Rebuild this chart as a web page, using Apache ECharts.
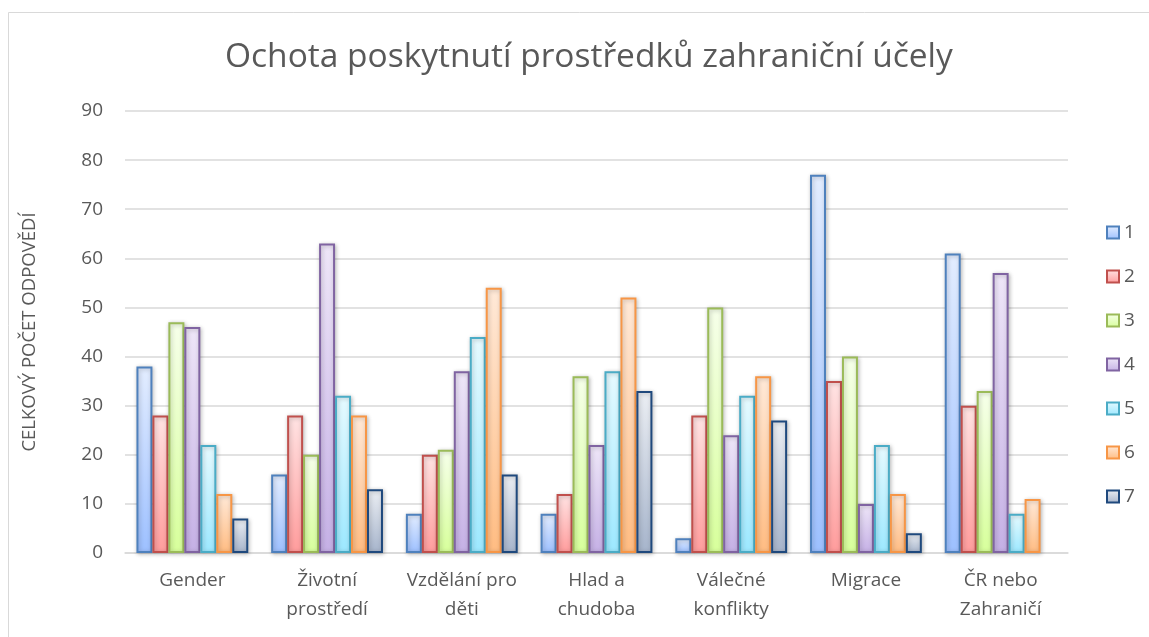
<!DOCTYPE html>
<html>
<head>
<meta charset="utf-8">
<script src="https://cdn.jsdelivr.net/npm/echarts@6/dist/echarts.min.js"></script>
<style>
  html, body { margin: 0; padding: 0; background: #fff; }
  #main { width: 1149px; height: 637px; }
</style>
</head>
<body>
<div id="main"></div>
<script>
// kategorie a hodnoty
var categories = ['Gender', 'Životní\nprostředí', 'Vzdělání pro\nděti', 'Hlad a\nchudoba', 'Válečné\nkonflikty', 'Migrace', 'ČR nebo\nZahraničí'];
var seriesNames = ['1', '2', '3', '4', '5', '6', '7'];
var s1 = [38, 16, 8, 8, 3, 77, 61];
var s2 = [28, 28, 20, 12, 28, 35, 30];
var s3 = [47, 20, 21, 36, 50, 40, 33];
var s4 = [46, 63, 37, 22, 24, 10, 57];
var s5 = [22, 32, 44, 37, 32, 22, 8];
var s6 = [12, 28, 54, 52, 36, 12, 11];
var s7 = [7, 13, 16, 33, 27, 4, null]; // poslední sloupec v grafu chybí
var allData = [s1, s2, s3, s4, s5, s6, s7];

// barvy: okraj, horní a dolní barva přechodu
var colors = [
  ['#4F81BD', '#E3EDFF', '#9DC0FF'],
  ['#C0504D', '#FFE3E3', '#FF9C9C'],
  ['#9BBB59', '#F6FFEA', '#D7FF9B'],
  ['#8064A2', '#EEE6F8', '#C5B0E5'],
  ['#4BACC6', '#E6FAFF', '#9CE8FF'],
  ['#F79646', '#FFE9D8', '#FFBC82'],
  ['#1F497D', '#EBEEF3', '#A6B4CB']
];

var font = 'Open Sans';

var series = allData.map(function (d, i) {
  return {
    name: seriesNames[i],
    type: 'bar',
    data: d,
    barGap: '0%',
    barCategoryGap: '17%',
    itemStyle: {
      borderColor: colors[i][0],
      borderWidth: 2,
      color: new echarts.graphic.LinearGradient(0, 0, 0, 1, [
        { offset: 0, color: colors[i][1] },
        { offset: 1, color: colors[i][2] }
      ]),
      shadowColor: 'rgba(0,0,0,0.25)',
      shadowBlur: 4,
      shadowOffsetX: 1,
      shadowOffsetY: 1
    }
  };
});

var myChart = echarts.init(document.getElementById('main'));
myChart.setOption({
  animation: false,
  backgroundColor: '#fff',
  graphic: [{
    type: 'rect',
    shape: { x: 8.5, y: 12.5, width: 1160, height: 660 },
    style: { fill: 'none', stroke: '#D9D9D9', lineWidth: 1 },
    silent: true
  }],
  title: {
    text: 'Ochota poskytnutí prostředků zahraniční účely',
    left: 220,
    top: 35,
    textStyle: { fontFamily: font, fontSize: 33.5, fontWeight: 'normal', color: '#595959' }
  },
  legend: {
    orient: 'vertical',
    left: 1101,
    top: 218,
    itemWidth: 12,
    itemHeight: 12,
    itemGap: 25,
    icon: 'rect',
    textStyle: { fontFamily: font, fontSize: 19, color: '#595959' },
    data: seriesNames
  },
  grid: { left: 125, right: 81, top: 111, bottom: 84 },
  xAxis: {
    type: 'category',
    data: categories,
    axisTick: { show: false },
    axisLine: { lineStyle: { color: '#D9D9D9', width: 1.5 } },
    axisLabel: { fontFamily: font, fontSize: 19, color: '#595959', lineHeight: 29, margin: 13, interval: 0 }
  },
  yAxis: {
    type: 'value',
    min: 0,
    max: 90,
    interval: 10,
    name: 'CELKOVÝ POČET ODPOVĚDÍ',
    nameLocation: 'middle',
    nameGap: 86,
    nameTextStyle: { fontFamily: font, fontSize: 18.5, color: '#595959' },
    axisLine: { show: false },
    axisTick: { show: false },
    axisLabel: { fontFamily: font, fontSize: 19, color: '#595959', margin: 22 },
    splitLine: { lineStyle: { color: '#D9D9D9', width: 1.5 } }
  },
  series: series
});
</script>
</body>
</html>
